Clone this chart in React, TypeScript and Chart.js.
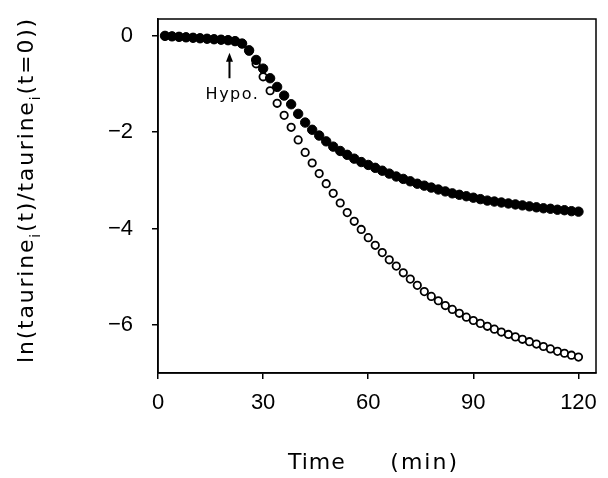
import React, { useEffect, useRef } from "react";
import { Chart, registerables } from "chart.js";

Chart.register(...registerables);

// ---- data ----
const timeMin = [
  2, 4, 6, 8, 10, 12, 14, 16, 18, 20, 22, 24, 26, 28, 30, 32, 34, 36, 38, 40,
  42, 44, 46, 48, 50, 52, 54, 56, 58, 60, 62, 64, 66, 68, 70, 72, 74, 76, 78, 80,
  82, 84, 86, 88, 90, 92, 94, 96, 98, 100, 102, 104, 106, 108, 110, 112, 114, 116, 118, 120,
];

const filledSeries = [
  0.0, -0.01, -0.02, -0.03, -0.04, -0.05, -0.06, -0.07, -0.08, -0.09,
  -0.11, -0.16, -0.3, -0.5, -0.68, -0.88, -1.06, -1.24, -1.42, -1.62,
  -1.8, -1.95, -2.07, -2.19, -2.3, -2.39, -2.47, -2.55, -2.62, -2.68,
  -2.74, -2.8, -2.86, -2.92, -2.97, -3.02, -3.07, -3.11, -3.15, -3.19,
  -3.23, -3.27, -3.3, -3.33, -3.36, -3.39, -3.42, -3.44, -3.46, -3.48,
  -3.5, -3.52, -3.54, -3.56, -3.58, -3.59, -3.61, -3.62, -3.64, -3.65,
];

const openSeries = [
  0.0, -0.01, -0.02, -0.03, -0.04, -0.05, -0.06, -0.07, -0.08, -0.09,
  -0.11, -0.16, -0.32, -0.58, -0.85, -1.14, -1.4, -1.65, -1.9, -2.16,
  -2.42, -2.64, -2.86, -3.07, -3.27, -3.47, -3.67, -3.85, -4.02, -4.19,
  -4.35, -4.5, -4.65, -4.78, -4.92, -5.05, -5.18, -5.31, -5.41, -5.5,
  -5.6, -5.68, -5.76, -5.84, -5.91, -5.97, -6.03, -6.09, -6.15, -6.2,
  -6.25, -6.3, -6.35, -6.4, -6.45, -6.5, -6.55, -6.59, -6.63, -6.67,
];

const xTickValues = [0, 30, 60, 90, 120];
const yTickValues = [0, -2, -4, -6];

const hypoLabel = "Hypo.";
const hypoTime = 20.4;
const hypoArrowTop = -0.35;
const hypoArrowBottom = -0.88;
const hypoLabelY = -1.18;

const yTitleParts: [string, boolean][] = [
  ["ln(taurine", false],
  ["i", true],
  ["(t)/taurine", false],
  ["i", true],
  ["(t=0))", false],
];
const xTitleLeft = "Time";
const xTitleRight = "(min)";

const TITLE_FONT = '"DejaVu Sans", sans-serif';

const zeroPadding = (s: any) => {
  s.paddingTop = 0;
  s.paddingBottom = 0;
  s.paddingLeft = 0;
  s.paddingRight = 0;
};

const decorPlugin = {
  id: "decor",
  beforeDatasetsDraw(chart: any) {
    const { ctx, chartArea: a } = chart;
    ctx.save();
    ctx.strokeStyle = "#000";
    ctx.lineWidth = 1.5;
    ctx.strokeRect(a.left, a.top, a.right - a.left, a.bottom - a.top);
    ctx.restore();
  },
  afterDraw(chart: any) {
    const { ctx, scales } = chart;
    const xs = scales.x;
    const ys = scales.y;
    ctx.save();
    ctx.fillStyle = "#000";
    ctx.strokeStyle = "#000";

    // Hypo arrow
    const ax = xs.getPixelForValue(hypoTime);
    const yTop = ys.getPixelForValue(hypoArrowTop);
    const yBot = ys.getPixelForValue(hypoArrowBottom);
    ctx.lineWidth = 2;
    ctx.beginPath();
    ctx.moveTo(ax, yBot);
    ctx.lineTo(ax, yTop + 6);
    ctx.stroke();
    ctx.beginPath();
    ctx.moveTo(ax, yTop);
    ctx.lineTo(ax - 3.5, yTop + 9);
    ctx.lineTo(ax + 3.5, yTop + 9);
    ctx.closePath();
    ctx.fill();

    // Hypo label
    ctx.font = `16px ${TITLE_FONT}`;
    (ctx as any).letterSpacing = "1.5px";
    ctx.textAlign = "center";
    ctx.textBaseline = "middle";
    ctx.fillText(hypoLabel, ax + 3, ys.getPixelForValue(hypoLabelY) + 2);

    // y title (rotated, with subscripts)
    ctx.textAlign = "left";
    ctx.textBaseline = "alphabetic";
    (ctx as any).letterSpacing = "1.8px";
    const mainFont = `22px ${TITLE_FONT}`;
    const subFont = `14px ${TITLE_FONT}`;
    let total = 0;
    const widths = yTitleParts.map(([t, sub]) => {
      ctx.font = sub ? subFont : mainFont;
      const w = ctx.measureText(t).width;
      total += w;
      return w;
    });
    ctx.save();
    ctx.translate(33, 190);
    ctx.rotate(-Math.PI / 2);
    let px = -total / 2;
    yTitleParts.forEach(([t, sub], i) => {
      ctx.font = sub ? subFont : mainFont;
      ctx.fillText(t, px, sub ? 7 : 0);
      px += widths[i];
    });
    ctx.restore();

    // x title
    ctx.font = mainFont;
    (ctx as any).letterSpacing = "1px";
    ctx.textAlign = "left";
    ctx.fillText(xTitleLeft, 288, 469);
    (ctx as any).letterSpacing = "2px";
    ctx.textAlign = "right";
    ctx.fillText(xTitleRight, 459, 469);
    ctx.restore();
  },
};

export default function App() {
  const canvasRef = useRef<HTMLCanvasElement | null>(null);

  useEffect(() => {
    const canvas = canvasRef.current;
    if (!canvas) return;
    const chart = new Chart(canvas, {
      type: "scatter",
      data: {
        datasets: [
          {
            label: "filled",
            data: timeMin.map((t, i) => ({ x: t, y: filledSeries[i] })),
            showLine: false,
            pointRadius: 4.7,
            pointBorderWidth: 1,
            pointBackgroundColor: "#000",
            pointBorderColor: "#000",
          },
          {
            label: "open",
            data: timeMin.map((t, i) => ({ x: t, y: openSeries[i] })),
            showLine: false,
            pointRadius: 3.7,
            pointBorderWidth: 1.8,
            pointBackgroundColor: "#fff",
            pointBorderColor: "#000",
          },
        ],
      },
      options: {
        responsive: false,
        animation: false,
        events: [],
        layout: { padding: { top: 19, right: 12, left: 0, bottom: 0 } },
        plugins: {
          legend: { display: false },
          tooltip: { enabled: false },
          title: { display: false },
        },
        scales: {
          x: {
            type: "linear",
            min: 0,
            max: 125,
            afterBuildTicks: (s: any) => {
              s.ticks = xTickValues.map((v) => ({ value: v }));
            },
            afterFit: (s: any) => {
              s.height = 105;
              zeroPadding(s);
            },
            grid: {
              drawOnChartArea: false,
              drawTicks: true,
              tickLength: 6,
              color: "#000",
              lineWidth: 1.5,
            },
            border: { display: true, color: "#000", width: 1.5 },
            ticks: {
              color: "#000",
              font: { family: "Liberation Sans", size: 22 },
              padding: 11,
              maxRotation: 0,
              autoSkip: false,
            },
          },
          y: {
            type: "linear",
            min: -7,
            max: 0.35,
            afterBuildTicks: (s: any) => {
              s.ticks = yTickValues.map((v) => ({ value: v }));
            },
            afterFit: (s: any) => {
              s.width = 158;
              zeroPadding(s);
            },
            grid: {
              drawOnChartArea: false,
              drawTicks: true,
              tickLength: 6,
              color: "#000",
              lineWidth: 1.5,
            },
            border: { display: true, color: "#000", width: 1.5 },
            ticks: {
              color: "#000",
              font: { family: "Liberation Sans", size: 22 },
              padding: 19,
              autoSkip: false,
              callback: (v: any) => (v < 0 ? "\u2212" + Math.abs(v) : String(v)),
            },
          },
        },
      },
      plugins: [decorPlugin],
    });
    return () => chart.destroy();
  }, []);

  return (
    <div style={{ position: "absolute", left: 0, top: 0, width: 608, height: 478, background: "#fff" }}>
      <canvas ref={canvasRef} width={608} height={478} style={{ display: "block" }} />
    </div>
  );
}
